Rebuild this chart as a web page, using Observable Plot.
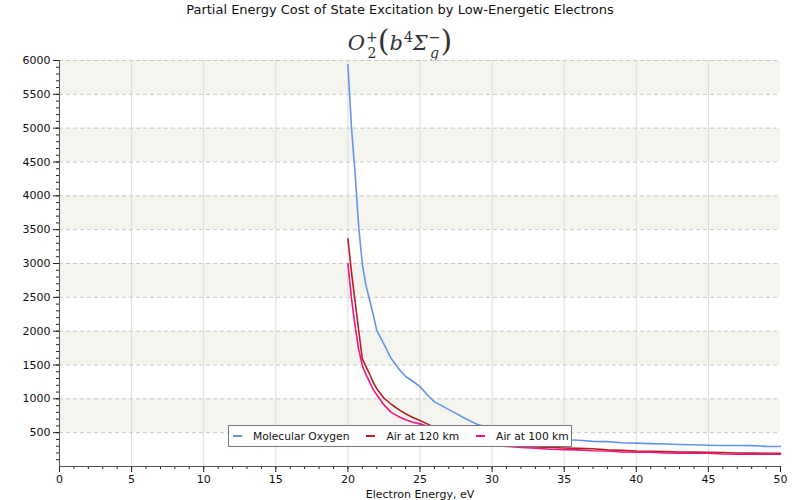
<!DOCTYPE html>
<html>
<head>
<meta charset="utf-8">
<script src="https://cdn.jsdelivr.net/npm/d3@7"></script>
<script src="https://cdn.jsdelivr.net/npm/@observablehq/plot@0.6"></script>
<style>
  html, body { margin: 0; padding: 0; background: #fff; }
  #wrap { position: relative; width: 800px; height: 500px; font-family: "DejaVu Sans", sans-serif; }
  #title { position: absolute; top: 2px; left: 0; width: 800px; text-align: center; font-size: 13px; color: #111; }
  #sub { position: absolute; top: 20px; left: 0; width: 800px; text-align: center; font-family: "DejaVu Serif", serif; font-style: italic; font-size: 21px; color: #333; white-space: nowrap; line-height: 34px; }
  #sub .ss { display: inline-flex; flex-direction: column; vertical-align: middle; font-size: 14px; line-height: 16px; margin-left: 1px; font-style: normal; }
  #sub .ss .i { font-style: italic; }
  #sub .sp { font-size: 14px; vertical-align: 8px; font-style: normal; margin-left: 1px; }
  #sub .p { font-style: normal; font-size: 30px; vertical-align: -1px; font-weight: 200; }
  #chart { position: absolute; top: 52px; left: 0; }
  #legend { position: absolute; left: 228px; top: 425px; width: 344px; height: 22px; box-sizing: border-box; border: 1px solid #777; background: #fff; display: flex; align-items: center; font-size: 10.7px; color: #111; padding-left: 4px; white-space: nowrap; }
  #legend .sw { width: 9px; height: 2px; margin-right: 11px; flex: none; }
  #legend .it { display: flex; align-items: center; flex: none; }
  #legend .it + .it { margin-left: 17px; }
</style>
</head>
<body>
<div id="wrap">
  <div id="title">Partial Energy Cost of State Excitation by Low-Energetic Electrons</div>
  <div id="sub">O<span class="ss"><span>+</span><span>2</span></span><span class="p">(</span>b<span class="sp">4</span>Σ<span class="ss"><span>−</span><span class="i">g</span></span><span class="p">)</span></div>
  <div id="chart"></div>
  <div id="legend"></div>
</div>
<script>
const seriesNames = ["Molecular Oxygen", "Air at 120 km", "Air at 100 km"];
const seriesColors = ["#6495ed", "#b22222", "#f5147f"];

const energy = [20, 20.25, 20.5, 20.75, 21, 21.25, 21.5, 21.75, 22, 22.5, 23, 23.5, 24, 24.5, 25, 25.5, 26, 26.5, 27, 27.5, 28, 28.5, 29,
  30, 31, 32, 33, 34, 35, 36, 37, 38, 39, 40, 41, 42, 43, 44, 45, 46, 47, 48, 49, 50];

const molecularOxygen = [5940, 5000, 4330, 3540, 2990, 2680, 2464, 2250, 2010, 1810, 1595, 1450, 1330, 1260, 1180, 1060, 955, 900, 840, 785, 725, 670, 620,
  560, 510, 470, 440, 415, 395, 388, 372, 368, 352, 345, 338, 332, 325, 321, 315, 311, 310, 308, 298, 296];

const air120 = [3365, 2870, 2440, 2010, 1590, 1480, 1370, 1245, 1150, 1010, 920, 845, 780, 725, 680, 630, 580, 525, 480, 445, 420, 395, 375,
  345, 320, 302, 290, 280, 273, 268, 262, 246, 240, 230, 226, 222, 214, 212, 210, 207, 199, 197, 196, 195];

const air100 = [2995, 2480, 2070, 1730, 1490, 1360, 1250, 1140, 1060, 910, 800, 740, 690, 655, 630, 595, 560, 505, 460, 425, 395, 370, 350,
  320, 298, 282, 270, 256, 249, 246, 232, 228, 215, 212, 210, 200, 198, 196, 195, 184, 182, 182, 181, 180];

const yMajorTicks = [500, 1000, 1500, 2000, 2500, 3000, 3500, 4000, 4500, 5000, 5500, 6000];
const yMinorTicks = d3.range(100, 6001, 100);
const xMajorTicks = [0, 5, 10, 15, 20, 25, 30, 35, 40, 45, 50];
const xMinorTicks = d3.range(0, 51, 1);
const bandStarts = [500, 1500, 2500, 3500, 4500, 5500];
const bandSize = 500;

const allSeries = [molecularOxygen, air120, air100];
const rows = [];
allSeries.forEach((vals, s) => {
  vals.forEach((v, i) => rows.push({series: seriesNames[s], x: energy[i], y: v}));
});

const plot = Plot.plot({
  width: 800,
  height: 448,
  marginTop: 8,
  marginBottom: 34,
  marginLeft: 59,
  marginRight: 20,
  style: {fontFamily: "DejaVu Sans, sans-serif", fontSize: "11px", color: "#111", background: "transparent"},
  x: {domain: [0, 50]},
  y: {domain: [0, 6000]},
  color: {domain: seriesNames, range: seriesColors},
  marks: [
    Plot.rectY(bandStarts, {y1: d => d, y2: d => d + bandSize, fill: "#f5f5f0"}),
    Plot.gridX(xMajorTicks.filter(d => d > 0 && d < 50), {stroke: "#dcdcdc", strokeOpacity: 1}),
    Plot.gridY(yMajorTicks, {stroke: "#c8c8c8", strokeOpacity: 1, strokeDasharray: "4,3"}),
    Plot.line(rows, {x: "x", y: "y", z: "series", stroke: "series", strokeWidth: 1.6}),
    Plot.axisY(yMinorTicks, {tickSize: 3, text: null, label: null, stroke: "#222"}),
    Plot.axisY(yMajorTicks, {tickSize: 6, tickPadding: 3, label: null, tickFormat: d => String(d), stroke: "#222"}),
    Plot.axisX(xMinorTicks, {tickSize: 3, text: null, label: null, stroke: "#222"}),
    Plot.axisX(xMajorTicks, {tickSize: 6, tickPadding: 3, label: "Electron Energy, eV", labelAnchor: "center", labelArrow: "none", labelOffset: 31, tickFormat: d => String(d), stroke: "#222"}),
    Plot.ruleX([0], {stroke: "#555"}),
    Plot.ruleY([0], {stroke: "#555"})
  ]
});
document.getElementById("chart").appendChild(plot);

const legend = document.getElementById("legend");
seriesNames.forEach((name, i) => {
  const it = document.createElement("div");
  it.className = "it";
  const sw = document.createElement("div");
  sw.className = "sw";
  sw.style.background = seriesColors[i];
  const t = document.createElement("span");
  t.textContent = name;
  it.appendChild(sw);
  it.appendChild(t);
  legend.appendChild(it);
});
</script>
</body>
</html>
